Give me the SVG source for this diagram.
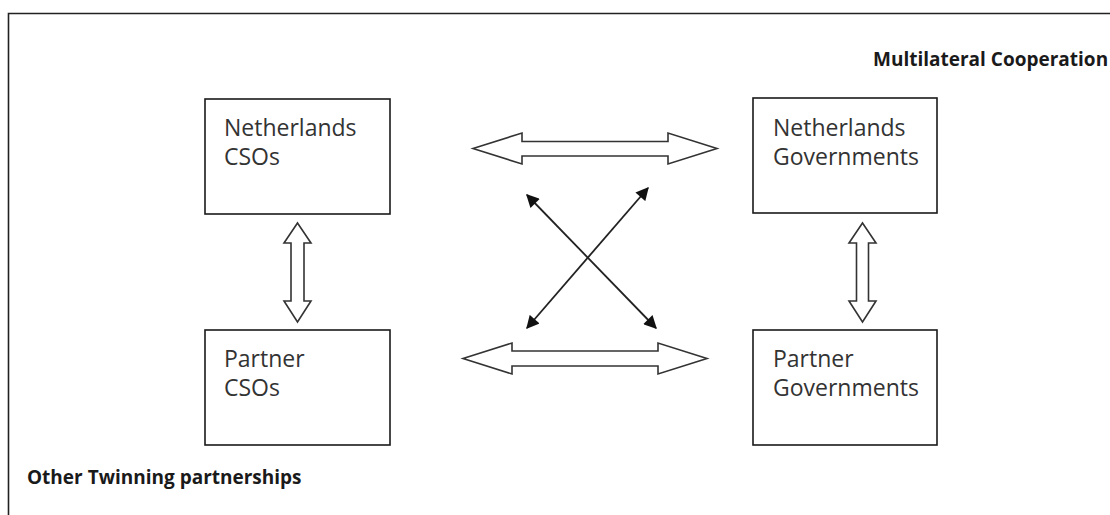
<svg xmlns="http://www.w3.org/2000/svg" width="1110" height="515" viewBox="0 0 1110 515">
<defs>
<style>
.box{fill:#fff;stroke:#1a1a1a;stroke-width:1.6}
.lbl{font-family:"Open Sans","Noto Sans",sans-serif;font-size:23px;fill:#333}
.bold{font-family:"Open Sans","Noto Sans",sans-serif;font-size:19px;font-weight:bold;fill:#1a1a1a}
.blk{fill:#fff;stroke:#333;stroke-width:1.6;stroke-linejoin:miter}
.thin{stroke:#222;stroke-width:1.8;fill:none}
</style>
<marker id="ah" viewBox="0 0 10 10" refX="9" refY="5" markerWidth="14" markerHeight="13" markerUnits="userSpaceOnUse" orient="auto-start-reverse">
<path d="M0,0 L10,5 L0,10 z" fill="#111"/>
</marker>
</defs>
<rect width="1110" height="515" fill="#fff"/>
<path d="M8.5,515 L8.5,13.5 L1110,13.5" fill="none" stroke="#222" stroke-width="1.6"/>
<g id="frame-labels">
<text class="bold" x="873" y="66">Multilateral Cooperation</text>
<text class="bold" x="27" y="484">Other Twinning partnerships</text>
</g>
<g id="nl-csos">
<rect class="box" x="205" y="99" width="185" height="115"/>
<text class="lbl" x="224" y="136">Netherlands</text>
<text class="lbl" x="224" y="165">CSOs</text>
</g>
<g id="nl-gov">
<rect class="box" x="753" y="98" width="184" height="115"/>
<text class="lbl" x="773" y="136">Netherlands</text>
<text class="lbl" x="773" y="165">Governments</text>
</g>
<g id="partner-csos">
<rect class="box" x="205" y="330" width="185" height="115"/>
<text class="lbl" x="224" y="367">Partner</text>
<text class="lbl" x="224" y="396">CSOs</text>
</g>
<g id="partner-gov">
<rect class="box" x="753" y="330" width="184" height="115"/>
<text class="lbl" x="773" y="367">Partner</text>
<text class="lbl" x="773" y="396">Governments</text>
</g>
<g id="connectors">
<path class="blk" d="M473,148.5 L522,133 L522,141.5 L668,141.5 L668,133 L717,148.5 L668,164 L668,156 L522,156 L522,164 z"/>
<path class="blk" d="M463,358.5 L512,343 L512,351 L658,351 L658,343 L707,358.5 L658,374 L658,366 L512,366 L512,374 z"/>
<path class="blk" d="M297.5,223 L311,243 L304,243 L304,301 L311,301 L297.5,322 L284,301 L291,301 L291,243 L284,243 z"/>
<path class="blk" d="M862.5,223 L876,243 L868.5,243 L868.5,301 L876,301 L862.5,322 L849,301 L856.5,301 L856.5,243 L849,243 z"/>
<line class="thin" x1="527" y1="195" x2="656" y2="328" marker-start="url(#ah)" marker-end="url(#ah)"/>
<line class="thin" x1="648" y1="188" x2="527" y2="328" marker-start="url(#ah)" marker-end="url(#ah)"/>
</g>
</svg>
